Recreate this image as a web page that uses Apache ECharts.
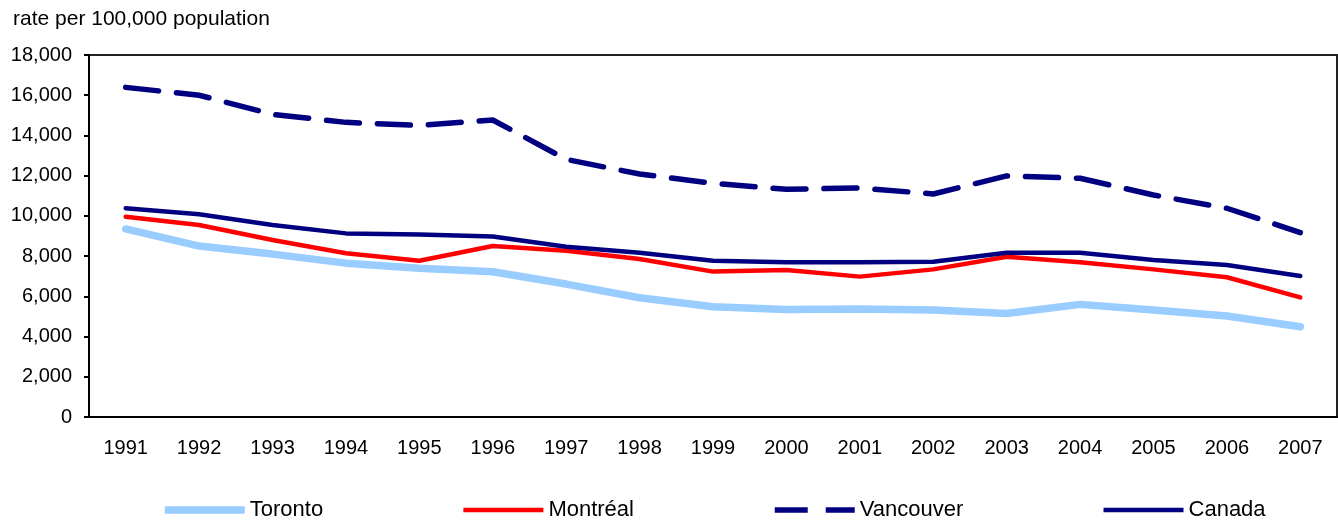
<!DOCTYPE html>
<html>
<head>
<meta charset="utf-8">
<script src="https://cdn.jsdelivr.net/npm/echarts@6/dist/echarts.min.js"></script>
<style>
    html, body { margin: 0; padding: 0; background: #fff; }
    #chart { width: 1338px; height: 522px; }
</style>
</head>
<body>
<div id="chart"></div>
<script>
var years = ['1991', '1992', '1993', '1994', '1995', '1996', '1997', '1998', '1999',
    '2000', '2001', '2002', '2003', '2004', '2005', '2006', '2007'];
var toronto = [9350, 8500, 8100, 7650, 7400, 7220, 6610, 5930, 5480,
    5350, 5370, 5320, 5150, 5600, 5320, 5020, 4490];
var montreal = [9960, 9550, 8800, 8140, 7770, 8500, 8270, 7860, 7230,
    7310, 6980, 7340, 7970, 7690, 7340, 6950, 5950];
var vancouver = [16390, 16000, 15050, 14650, 14500, 14770, 12810, 12080, 11620,
    11320, 11390, 11090, 11990, 11870, 11040, 10380, 9170];
var canada = [10380, 10080, 9550, 9130, 9070, 8970, 8470, 8170, 7770,
    7690, 7690, 7720, 8170, 8170, 7810, 7560, 7010];

var font = 'Liberation Sans, Arial, sans-serif';

function lineSeries(name, data, color, width, dash) {
    return {
        name: name,
        type: 'line',
        data: data,
        symbol: 'none',
        animation: false,
        lineStyle: { color: color, width: width, type: dash || 'solid', cap: 'round' },
        itemStyle: { color: color }
    };
}

var option = {
    backgroundColor: '#fff',
    textStyle: { fontFamily: font },
    title: {
        text: 'rate per 100,000 population',
        left: 8,
        top: 4,
        textStyle: { fontSize: 21, fontWeight: 'normal', color: '#000', fontFamily: font }
    },
    grid: {
        left: 89, top: 55, right: 1, bottom: 105,
        show: true, borderColor: '#222', borderWidth: 2
    },
    legend: {
        left: 156,
        top: 494,
        itemWidth: 80,
        itemHeight: 22,
        itemGap: 138,
        itemStyle: { opacity: 0 },
        lineStyle: { width: 'inherit', cap: 'butt' },
        textStyle: { fontSize: 22, color: '#000', fontFamily: font },
        data: ['Toronto', 'Montréal', 'Vancouver', 'Canada']
    },
    xAxis: {
        type: 'category',
        data: years,
        boundaryGap: true,
        axisLine: { lineStyle: { color: '#000', width: 2 } },
        axisTick: { inside: true, length: 8, lineStyle: { color: '#000', width: 2 } },
        axisLabel: { color: '#000', fontSize: 20, margin: 21, fontFamily: font },
        splitLine: { show: false }
    },
    yAxis: {
        type: 'value',
        min: 0,
        max: 18000,
        interval: 2000,
        axisLine: { show: true, lineStyle: { color: '#000', width: 2 } },
        axisTick: { show: true, length: 5, lineStyle: { color: '#000', width: 2 } },
        axisLabel: {
            color: '#000', fontSize: 20, margin: 17, fontFamily: font,
            formatter: function (v) { return v.toLocaleString('en-US'); }
        },
        splitLine: { show: false }
    },
    series: [
        lineSeries('Toronto', toronto, '#99CCFF', 7.5),
        lineSeries('Montréal', montreal, '#FF0000', 4.5),
        lineSeries('Vancouver', vancouver, '#000080', 5.5, [33, 18]),
        lineSeries('Canada', canada, '#000080', 4.5)
    ]
};

var myChart = echarts.init(document.getElementById('chart'));
myChart.setOption(option);
</script>
</body>
</html>
